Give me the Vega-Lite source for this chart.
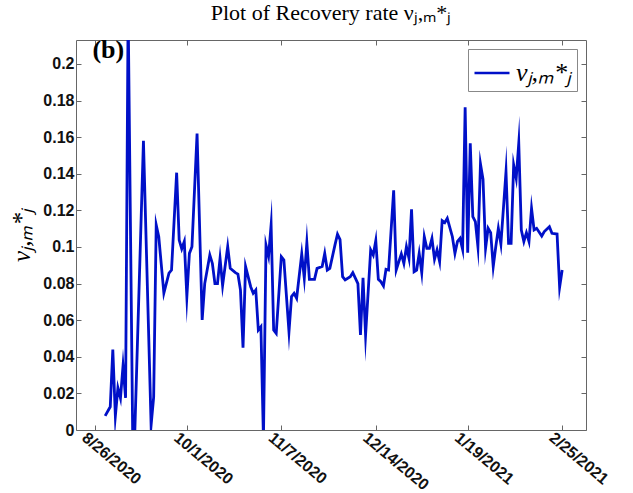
{
  "$schema": "https://vega.github.io/schema/vega-lite/v6.json",
  "width": 510,
  "height": 390,
  "autosize": {"type": "none"},
  "padding": {"left": 76, "top": 40, "right": 47, "bottom": 63},
  "background": "white",
  "title": {"text": "Plot of Recovery rate νⱼ,ₘ*ⱼ", "font": "Liberation Serif", "fontSize": 22, "fontWeight": "normal", "color": "#000", "offset": 12},
  "config": {
    "view": {"stroke": null},
    "axis": {"domainColor": "#666", "tickColor": "#666", "grid": false, "labelFont": "Liberation Sans", "labelFontWeight": "bold", "labelFontSize": 16, "labelColor": "#111", "tickSize": -5}
  },
  "datasets": {
    "rate": [
      {"date": "2020-08-30", "v": 0.0077},
      {"date": "2020-09-01", "v": 0.0127},
      {"date": "2020-09-02", "v": 0.044},
      {"date": "2020-09-03", "v": 0.0077},
      {"date": "2020-09-04", "v": 0.023},
      {"date": "2020-09-05", "v": 0.0174},
      {"date": "2020-09-06", "v": 0.035},
      {"date": "2020-09-07", "v": 0.0175},
      {"date": "2020-09-08", "v": 0.23},
      {"date": "2020-09-10", "v": -0.03},
      {"date": "2020-09-14", "v": 0.158},
      {"date": "2020-09-17", "v": 0.0027},
      {"date": "2020-09-18", "v": 0.018},
      {"date": "2020-09-19", "v": 0.112},
      {"date": "2020-09-20", "v": 0.1056},
      {"date": "2020-09-22", "v": 0.0748},
      {"date": "2020-09-24", "v": 0.0857},
      {"date": "2020-09-25", "v": 0.0874},
      {"date": "2020-09-27", "v": 0.1406},
      {"date": "2020-09-28", "v": 0.1038},
      {"date": "2020-09-29", "v": 0.099},
      {"date": "2020-09-30", "v": 0.103},
      {"date": "2020-10-01", "v": 0.0728},
      {"date": "2020-10-02", "v": 0.0965},
      {"date": "2020-10-03", "v": 0.1002},
      {"date": "2020-10-05", "v": 0.162},
      {"date": "2020-10-07", "v": 0.0601},
      {"date": "2020-10-08", "v": 0.08},
      {"date": "2020-10-10", "v": 0.0956},
      {"date": "2020-10-11", "v": 0.091},
      {"date": "2020-10-12", "v": 0.08},
      {"date": "2020-10-13", "v": 0.08},
      {"date": "2020-10-14", "v": 0.0938},
      {"date": "2020-10-15", "v": 0.079},
      {"date": "2020-10-17", "v": 0.1002},
      {"date": "2020-10-18", "v": 0.0883},
      {"date": "2020-10-20", "v": 0.086},
      {"date": "2020-10-21", "v": 0.0852},
      {"date": "2020-10-22", "v": 0.0765},
      {"date": "2020-10-23", "v": 0.045},
      {"date": "2020-10-24", "v": 0.0893},
      {"date": "2020-10-26", "v": 0.0783},
      {"date": "2020-10-27", "v": 0.0747},
      {"date": "2020-10-28", "v": 0.0765},
      {"date": "2020-10-29", "v": 0.0546},
      {"date": "2020-10-30", "v": 0.0564},
      {"date": "2020-10-31", "v": -0.005},
      {"date": "2020-11-01", "v": 0.101},
      {"date": "2020-11-02", "v": 0.095},
      {"date": "2020-11-03", "v": 0.112},
      {"date": "2020-11-04", "v": 0.0546},
      {"date": "2020-11-05", "v": 0.0528},
      {"date": "2020-11-07", "v": 0.0947},
      {"date": "2020-11-08", "v": 0.0929},
      {"date": "2020-11-10", "v": 0.0537},
      {"date": "2020-11-11", "v": 0.0729},
      {"date": "2020-11-12", "v": 0.0747},
      {"date": "2020-11-13", "v": 0.072},
      {"date": "2020-11-15", "v": 0.0962},
      {"date": "2020-11-16", "v": 0.0829},
      {"date": "2020-11-17", "v": 0.1024},
      {"date": "2020-11-18", "v": 0.0823},
      {"date": "2020-11-20", "v": 0.0823},
      {"date": "2020-11-21", "v": 0.0883},
      {"date": "2020-11-23", "v": 0.0893},
      {"date": "2020-11-24", "v": 0.0965},
      {"date": "2020-11-25", "v": 0.0874},
      {"date": "2020-11-26", "v": 0.0883},
      {"date": "2020-11-28", "v": 0.101},
      {"date": "2020-11-29", "v": 0.107},
      {"date": "2020-11-30", "v": 0.104},
      {"date": "2020-12-01", "v": 0.0838},
      {"date": "2020-12-02", "v": 0.082},
      {"date": "2020-12-04", "v": 0.0838},
      {"date": "2020-12-05", "v": 0.086},
      {"date": "2020-12-07", "v": 0.08},
      {"date": "2020-12-08", "v": 0.0519},
      {"date": "2020-12-09", "v": 0.0832},
      {"date": "2020-12-10", "v": 0.0519},
      {"date": "2020-12-12", "v": 0.0984},
      {"date": "2020-12-13", "v": 0.0956},
      {"date": "2020-12-14", "v": 0.1035},
      {"date": "2020-12-15", "v": 0.0823},
      {"date": "2020-12-16", "v": 0.081},
      {"date": "2020-12-17", "v": 0.0787},
      {"date": "2020-12-18", "v": 0.0878},
      {"date": "2020-12-19", "v": 0.0874},
      {"date": "2020-12-21", "v": 0.131},
      {"date": "2020-12-22", "v": 0.0874},
      {"date": "2020-12-24", "v": 0.0962},
      {"date": "2020-12-25", "v": 0.091},
      {"date": "2020-12-26", "v": 0.1002},
      {"date": "2020-12-27", "v": 0.0938},
      {"date": "2020-12-28", "v": 0.1206},
      {"date": "2020-12-29", "v": 0.0865},
      {"date": "2020-12-30", "v": 0.0874},
      {"date": "2020-12-31", "v": 0.0965},
      {"date": "2021-01-01", "v": 0.086},
      {"date": "2021-01-02", "v": 0.1056},
      {"date": "2021-01-03", "v": 0.0993},
      {"date": "2021-01-04", "v": 0.0993},
      {"date": "2021-01-05", "v": 0.1047},
      {"date": "2021-01-06", "v": 0.0933},
      {"date": "2021-01-07", "v": 0.0984},
      {"date": "2021-01-08", "v": 0.092},
      {"date": "2021-01-09", "v": 0.1144},
      {"date": "2021-01-10", "v": 0.1133},
      {"date": "2021-01-11", "v": 0.1157},
      {"date": "2021-01-13", "v": 0.1056},
      {"date": "2021-01-14", "v": 0.0965},
      {"date": "2021-01-15", "v": 0.103},
      {"date": "2021-01-16", "v": 0.1047},
      {"date": "2021-01-17", "v": 0.0987},
      {"date": "2021-01-18", "v": 0.1763},
      {"date": "2021-01-19", "v": 0.0969},
      {"date": "2021-01-20", "v": 0.1567},
      {"date": "2021-01-21", "v": 0.1166},
      {"date": "2021-01-22", "v": 0.1138},
      {"date": "2021-01-23", "v": 0.1002},
      {"date": "2021-01-24", "v": 0.1454},
      {"date": "2021-01-25", "v": 0.137},
      {"date": "2021-01-26", "v": 0.0993},
      {"date": "2021-01-27", "v": 0.1102},
      {"date": "2021-01-28", "v": 0.1078},
      {"date": "2021-01-29", "v": 0.0893},
      {"date": "2021-01-30", "v": 0.1002},
      {"date": "2021-01-31", "v": 0.1102},
      {"date": "2021-02-01", "v": 0.1016},
      {"date": "2021-02-03", "v": 0.1411},
      {"date": "2021-02-04", "v": 0.102},
      {"date": "2021-02-05", "v": 0.102},
      {"date": "2021-02-06", "v": 0.1448},
      {"date": "2021-02-07", "v": 0.1375},
      {"date": "2021-02-08", "v": 0.1567},
      {"date": "2021-02-09", "v": 0.1093},
      {"date": "2021-02-10", "v": 0.103},
      {"date": "2021-02-11", "v": 0.1078},
      {"date": "2021-02-12", "v": 0.103},
      {"date": "2021-02-13", "v": 0.1211},
      {"date": "2021-02-14", "v": 0.1093},
      {"date": "2021-02-15", "v": 0.1102},
      {"date": "2021-02-17", "v": 0.106},
      {"date": "2021-02-18", "v": 0.1084},
      {"date": "2021-02-20", "v": 0.1111},
      {"date": "2021-02-21", "v": 0.1075},
      {"date": "2021-02-23", "v": 0.1071},
      {"date": "2021-02-24", "v": 0.078},
      {"date": "2021-02-25", "v": 0.0874}
    ],
    "note": [{"date": "2020-08-25", "v": 0.2035, "label": "(b)"}]
  },
  "resolve": {"axis": {"x": "independent", "y": "independent"}},
  "layer": [
    {
      "data": {"name": "rate"},
      "mark": {"type": "line", "clip": true, "strokeWidth": 2.8, "strokeJoin": "miter", "strokeMiterLimit": 20},
      "encoding": {
        "x": {
          "field": "date", "type": "temporal",
          "scale": {"type": "utc", "domain": [{"year": 2020, "month": 8, "date": 18, "hours": 14, "utc": true}, {"year": 2021, "month": 3, "date": 6, "hours": 8, "utc": true}]},
          "axis": {
            "title": null, "labelExpr": "utcFormat(datum.value, '%-m/%-d/%Y')", "labelAngle": 40, "labelAlign": "left", "labelBaseline": "top", "labelPadding": 4, "labelOffset": -6,
            "values": [
              {"year": 2020, "month": 8, "date": 26, "utc": true},
              {"year": 2020, "month": 10, "date": 1, "utc": true},
              {"year": 2020, "month": 11, "date": 7, "utc": true},
              {"year": 2020, "month": 12, "date": 14, "utc": true},
              {"year": 2021, "month": 1, "date": 19, "utc": true},
              {"year": 2021, "month": 2, "date": 25, "utc": true}
            ]
          }
        },
        "y": {
          "field": "v", "type": "quantitative",
          "scale": {"domain": [0, 0.2131], "nice": false, "zero": false},
          "axis": {
            "values": [0, 0.02, 0.04, 0.06, 0.08, 0.1, 0.12, 0.14, 0.16, 0.18, 0.2],
            "format": "~g", "labelPadding": 7,
            "title": "νⱼ,ₘ*ⱼ", "titleFont": "Liberation Serif", "titleFontStyle": "italic", "titleFontWeight": "normal", "titleFontSize": 25, "titleColor": "#000", "titlePadding": 8
          }
        },
        "color": {
          "datum": "νⱼ,ₘ*ⱼ", "type": "nominal",
          "scale": {"range": ["#0010C8"]},
          "legend": {
            "title": null, "orient": "top-right", "offset": 9, "padding": 5,
            "strokeColor": "#888", "fillColor": "white",
            "symbolType": "stroke", "symbolSize": 1225, "symbolStrokeWidth": 2.6,
            "labelFont": "Liberation Serif", "labelFontStyle": "italic", "labelFontSize": 26, "labelColor": "#000", "labelOffset": 5, "labelLimit": 200
          }
        }
      }
    },
    {
      "data": {"name": "rate"},
      "mark": {"type": "line", "opacity": 0, "clip": true},
      "encoding": {
        "x": {"field": "date", "type": "temporal", "axis": {"orient": "top", "title": null, "labels": false, "values": [
              {"year": 2020, "month": 8, "date": 26, "utc": true},
              {"year": 2020, "month": 10, "date": 1, "utc": true},
              {"year": 2020, "month": 11, "date": 7, "utc": true},
              {"year": 2020, "month": 12, "date": 14, "utc": true},
              {"year": 2021, "month": 1, "date": 19, "utc": true},
              {"year": 2021, "month": 2, "date": 25, "utc": true}
            ]}},
        "y": {"field": "v", "type": "quantitative", "axis": {"orient": "right", "title": null, "labels": false, "values": [0, 0.02, 0.04, 0.06, 0.08, 0.1, 0.12, 0.14, 0.16, 0.18, 0.2]}}
      }
    },
    {
      "data": {"name": "note"},
      "mark": {"type": "text", "font": "Liberation Serif", "fontWeight": "bold", "fontSize": 26, "align": "left", "baseline": "alphabetic", "color": "#000"},
      "encoding": {
        "x": {"field": "date", "type": "temporal", "axis": null},
        "y": {"field": "v", "type": "quantitative", "axis": null},
        "text": {"field": "label"}
      }
    }
  ]
}
